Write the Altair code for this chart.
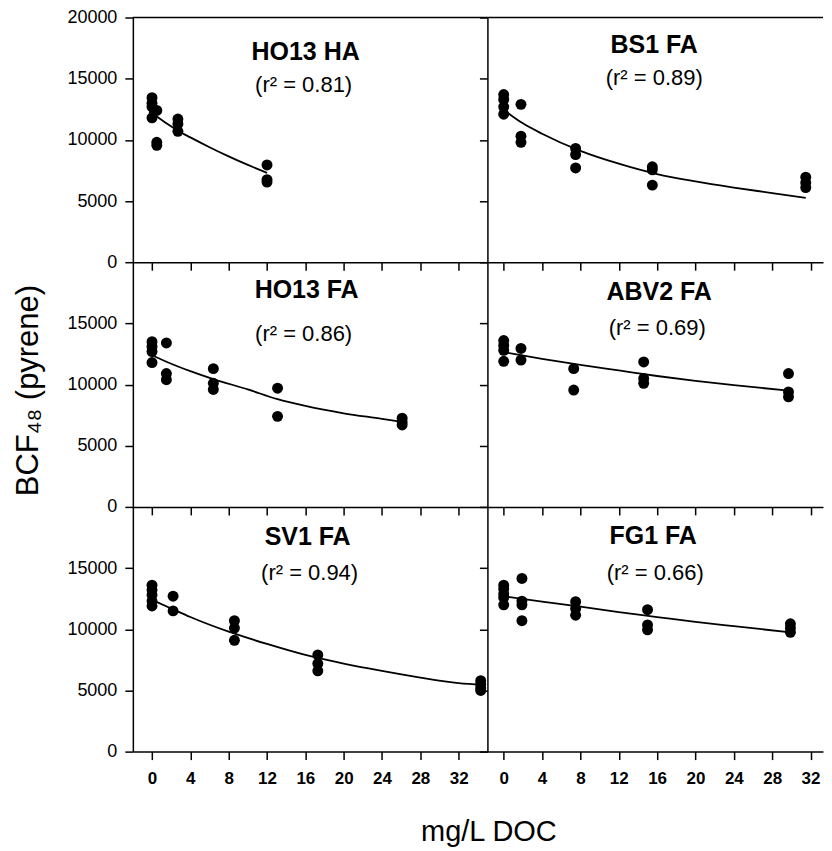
import altair as alt
import pandas as pd

FONT = "Liberation Sans"

# ---------------- data ----------------
panel_names = ["HO13 HA", "BS1 FA", "HO13 FA", "ABV2 FA", "SV1 FA", "FG1 FA"]
r2_values = ["0.81", "0.89", "0.86", "0.69", "0.94", "0.66"]

# measured points (DOC mg/L, BCF48)
ho13ha_x = [0, 0, 0, 0, 0.5, 0.5, 0.5, 2.7, 2.7, 2.7, 12, 12, 12]
ho13ha_y = [13450, 13000, 12700, 11800, 12400, 9800, 9550, 11700, 11300, 10700, 7950, 6750, 6550]

bs1_x = [0, 0, 0, 0, 1.8, 1.8, 1.8, 7.5, 7.5, 7.5, 15.5, 15.5, 15.5, 31.5, 31.5, 31.5]
bs1_y = [13700, 13300, 12700, 12100, 12900, 10300, 9800, 9300, 8800, 7700, 7800, 7550, 6300, 6950, 6500, 6100]

ho13fa_x = [0, 0, 0, 0, 1.5, 1.5, 1.5, 6.4, 6.4, 6.4, 13.1, 13.1, 26.1, 26.1, 26.1]
ho13fa_y = [13500, 13100, 12700, 11800, 13400, 10900, 10400, 11300, 10100, 9600, 9700, 7400, 7250, 6950, 6700]

abv2_x = [0, 0, 0, 0, 1.8, 1.8, 7.3, 7.3, 14.6, 14.6, 14.6, 29.7, 29.7, 29.7]
abv2_y = [13600, 13200, 12800, 11900, 12950, 12000, 11300, 9550, 11850, 10500, 10100, 10900, 9400, 9000]

sv1_x = [0, 0, 0, 0, 0, 2.2, 2.2, 8.6, 8.6, 8.6, 17.3, 17.3, 17.3, 34.3, 34.3, 34.3, 34.3]
sv1_y = [13600, 13200, 12800, 12300, 11900, 12700, 11500, 10700, 10100, 9100, 7900, 7200, 6600, 5800, 5500, 5200, 5000]

fg1_x = [0, 0, 0, 0, 0, 1.9, 1.9, 1.9, 1.9, 7.5, 7.5, 7.5, 15, 15, 15, 29.9, 29.9, 29.9]
fg1_y = [13600, 13300, 12900, 12600, 12000, 14150, 12300, 12000, 10700, 12250, 11700, 11150, 11600, 10350, 9950, 10450, 10100, 9750]

# fitted curves
ho13ha_cx = [-0.3, 0.5, 1.5, 2.7, 4, 6, 8, 10, 12]
ho13ha_cy = [12300, 11900, 11350, 10750, 10200, 9400, 8650, 7950, 7300]

bs1_cx = [0, 2, 4, 8, 12, 16, 20, 24, 28, 31.5]
bs1_cy = [12450, 11350, 10500, 9100, 8050, 7200, 6600, 6100, 5650, 5250]

ho13fa_cx = [0, 2, 4, 6.4, 10, 13.1, 16, 20, 24, 26.1]
ho13fa_cy = [12400, 11700, 11100, 10450, 9600, 8800, 8250, 7650, 7200, 6950]

abv2_cx = [0, 4, 8, 12, 16, 20, 24, 29.7]
abv2_cy = [12650, 12100, 11600, 11150, 10700, 10300, 9950, 9500]

sv1_cx = [0, 2, 4, 8, 12, 16, 20, 24, 28, 32, 34.5]
sv1_cy = [12400, 11700, 11000, 9800, 8800, 7900, 7200, 6600, 6050, 5600, 5450]

fg1_cx = [0, 4, 8, 12, 16, 20, 24, 29.9]
fg1_cy = [12700, 12250, 11850, 11400, 11000, 10600, 10250, 9750]

x_ticks = [0, 4, 8, 12, 16, 20, 24, 28, 32]
y_ticks_top = [0, 5000, 10000, 15000, 20000]
y_ticks = [0, 5000, 10000, 15000]
y_top = [20000]

points = [(ho13ha_x, ho13ha_y), (bs1_x, bs1_y), (ho13fa_x, ho13fa_y),
          (abv2_x, abv2_y), (sv1_x, sv1_y), (fg1_x, fg1_y)]
curves = [(ho13ha_cx, ho13ha_cy), (bs1_cx, bs1_cy), (ho13fa_cx, ho13fa_cy),
          (abv2_cx, abv2_cy), (sv1_cx, sv1_cy), (fg1_cx, fg1_cy)]

# ---------------- layout / style ----------------
W_LEFT, W_RIGHT, H = 355, 336, 245
X_DOM = {0: [-2, 35], 1: [-1.7, 33.3]}
# annotation centres (pixels within the panel): title, r2 line
ANNOT = [((173, 35), (171, 68)), ((167, 28), (167, 61)),
         ((174, 28), (171, 72)), ((172, 30), (170, 66)),
         ((175, 30), (177, 66)), ((166, 29), (168, 66))]


def make_panel(i):
    row, col = divmod(i, 2)
    px, py = points[i]
    cx, cy = curves[i]
    pts = pd.DataFrame({"doc": px, "bcf": py})
    crv = pd.DataFrame({"doc": cx, "bcf": cy})
    lab = pd.DataFrame({"name": [panel_names[i]], "r2": ["(r\u00b2 = " + r2_values[i] + ")"]})

    x_axis_kw = dict(values=x_ticks, labels=(row == 2), tickSize=8, labelPadding=11,
                     labelFontSize=17, labelFontWeight="bold", title=None)
    if i == 4:
        x_axis_kw.update(title="mg/L DOC", titleFontSize=29, titleFontWeight="normal",
                         titleX=356, titleY=89, titleBaseline="alphabetic", titleAlign="center")
    y_axis_kw = dict(values=(y_ticks_top if row == 0 else y_ticks), labels=(col == 0), format="d",
                     tickSize=8, labelPadding=8, labelFontSize=18, title=None)
    if i == 2:
        y_axis_kw.update(title="BCF\u2084\u2088 (pyrene)", titleFontSize=31, titleFontWeight="normal",
                         titleX=-95, titleY=128, titleAngle=270, titleBaseline="alphabetic",
                         titleAlign="center")

    x_enc = alt.X("doc:Q", scale=alt.Scale(domain=X_DOM[col], nice=False, zero=False),
                  axis=alt.Axis(**x_axis_kw))
    y_enc = alt.Y("bcf:Q", scale=alt.Scale(domain=[0, 20000], nice=False),
                  axis=alt.Axis(**y_axis_kw))

    dots = alt.Chart(pts).mark_circle(size=120, color="black", opacity=1).encode(x=x_enc, y=y_enc)
    line = alt.Chart(crv).mark_line(color="black", strokeWidth=1.8, interpolate="monotone").encode(
        x="doc:Q", y="bcf:Q")
    (tx, ty), (rx, ry) = ANNOT[i]
    title_t = alt.Chart(lab).mark_text(font=FONT, fontSize=25, fontWeight="bold", color="black",
                                       align="center", baseline="middle").encode(
        text="name:N", x=alt.value(tx), y=alt.value(ty))
    r2_t = alt.Chart(lab).mark_text(font=FONT, fontSize=22, color="black",
                                    align="center", baseline="middle").encode(
        text="r2:N", x=alt.value(rx), y=alt.value(ry))
    layers = [dots, line, title_t, r2_t]
    if row == 0:
        top = alt.Chart(pd.DataFrame({"bcf": y_top})).mark_rule(color="black", strokeWidth=1.5).encode(
            y="bcf:Q")
        layers.append(top)
    return alt.layer(*layers).properties(width=(W_LEFT if col == 0 else W_RIGHT), height=H)


panels = [make_panel(i) for i in range(6)]

chart = alt.concat(*panels, columns=2, spacing=0, bounds="flush").properties(
    padding={"left": 5, "top": 0, "right": 0, "bottom": 0}
).configure_view(strokeWidth=0).configure_axis(
    labelFont=FONT, titleFont=FONT, labelColor="black", titleColor="black",
    domainColor="black", tickColor="black", domainWidth=1.5, tickWidth=1.5, grid=False
)

chart.save("out.html", embed_options={"renderer": "svg", "actions": False})
